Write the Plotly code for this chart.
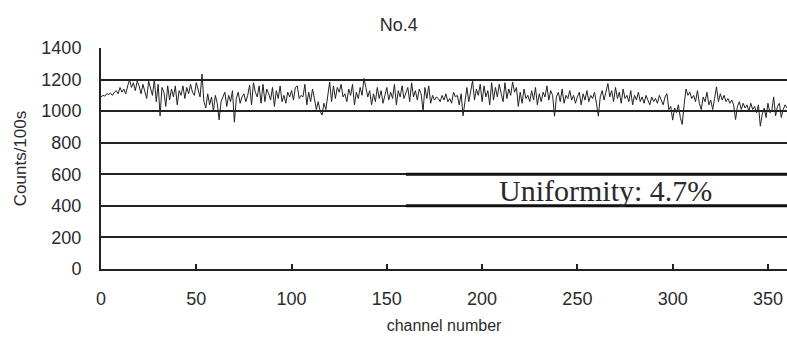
import plotly.graph_objects as go

# Counts per channel over a 100 s acquisition
counts = [
    1090, 1100, 1095, 1110, 1105, 1115, 1100, 1120, 1130, 1110, 1150, 1120, 1140, 1110, 1160, 1200, 1150, 1180, 1130, 1190,
    1160, 1110, 1170, 1120, 1080, 1190, 1150, 1100, 1200, 1060, 1170, 970, 1150, 1120, 1030, 1160, 1070, 1140, 1090, 1160,
    1040, 1130, 1100, 1160, 1080, 1150, 1110, 1170, 1120, 1100, 1180, 1140, 1090, 1235, 1060, 1020, 1110, 1040, 1090, 1000,
    1100, 1050, 945, 1060, 1090, 1120, 1030, 1100, 1060, 1130, 930, 1080, 1120, 1050, 1090, 1110, 1060, 1100, 1165, 1040,
    1180, 1120, 1090, 1160, 1050, 1170, 1060, 1140, 1110, 1070, 1150, 1030, 1130, 1080, 1160, 1060, 1100, 1050, 1120, 1090,
    1130, 1070, 1150, 1160, 1080, 1100, 1090, 1170, 1040, 1120, 1060, 1140, 1080, 1010, 1060, 1000, 975, 1050, 1010, 1110,
    1185, 1060, 1160, 1080, 1150, 1120, 1170, 1090, 1110, 1060, 1140, 1100, 1170, 1040, 1120, 1080, 1150, 1100, 1207, 1150,
    1090, 1130, 1040, 1110, 1060, 1150, 1080, 1130, 1050, 1100, 1150, 1070, 1120, 1080, 1170, 1040, 1130, 1090, 1160, 1080,
    1120, 1150, 1060, 1180, 1090, 1130, 1070, 1140, 1110, 1000, 1150, 1080, 1160, 1050, 1100, 1070, 1090, 1080, 1060, 1100,
    1070, 1110, 1060, 1080, 1050, 1120, 1090, 1100, 1040, 1110, 970, 1080, 1150, 1060, 1130, 1192, 1070, 1140, 1100, 1170,
    1060, 1160, 1090, 1130, 1040, 1180, 1070, 1150, 1090, 1170, 1110, 1060, 1180, 1080, 1140, 1100, 1185, 1120, 1150, 1030,
    1120, 1050, 1140, 1080, 1100, 1060, 1130, 1070, 1150, 1040, 1110, 1060, 1120, 1090, 1160, 1070, 1130, 1100, 968, 1090,
    1120, 1060, 1140, 1050, 1100, 1080, 1130, 1070, 1100, 1050, 1090, 1120, 1040, 1110, 1070, 1130, 1060, 1100, 1080, 1120,
    1050, 968, 1090, 1130, 1070, 1120, 1175, 1090, 1130, 1060, 1150, 1080, 1120, 1050, 1140, 1080, 1100, 1060, 1130, 1040,
    1100, 1070, 1120, 1060, 1090, 1050, 1100, 1070, 1040, 1090, 1060, 1080, 1050, 1100, 1070, 1040, 1090, 1110, 1010, 1030,
    943, 1020, 990, 1040, 960, 916, 1040, 1140, 1100, 1120, 1080, 1100, 1060, 1130, 1050, 1010, 1090, 1060, 1120, 1040,
    1070, 1010, 1080, 1154, 1060, 1110, 1070, 1100, 1060, 1080, 1050, 1070, 1040, 947, 1030, 1060, 1010, 1050, 1020, 1040,
    1000, 1050, 1010, 1030, 990, 1040, 905, 980, 1020, 960, 1050, 990, 1000, 1090, 970, 1030, 1050, 960, 1010, 1040,
    1020,
]
channels = list(range(len(counts)))

x_ticks = [0, 50, 100, 150, 200, 250, 300, 350]
y_ticks = [0, 200, 400, 600, 800, 1000, 1200, 1400]

uniformity_label = "Uniformity: 4.7%"
box_x = [160, 360]
box_y = [400, 600]

ink = "#222222"
text_ink = "#2b2b2b"
sans = "Liberation Sans, Arial, sans-serif"

fig = go.Figure()
fig.add_trace(go.Scatter(
    x=channels, y=counts, mode="lines",
    line=dict(color=ink, width=1),
    showlegend=False, hoverinfo="skip",
))

# top and bottom rules of the uniformity label box
for yv in box_y:
    fig.add_shape(type="line", xref="x", yref="y",
                  x0=box_x[0], x1=box_x[1], y0=yv, y1=yv,
                  line=dict(color="#111111", width=3))

fig.add_annotation(
    x=(box_x[0] + box_x[1]) / 2 + 5, y=sum(box_y) / 2,
    xref="x", yref="y", text=uniformity_label, showarrow=False,
    font=dict(family="Liberation Serif, Times New Roman, serif", size=30, color="#2a2a2a"),
    xanchor="center", yanchor="middle",
)

fig.update_layout(
    width=787, height=343,
    margin=dict(l=101, r=0, t=48, b=74),
    paper_bgcolor="white", plot_bgcolor="white",
    title=dict(text="No.4", x=0.434, xref="paper", y=1 - 24.5 / 343,
               yref="container", xanchor="center", yanchor="middle",
               font=dict(family=sans, size=18, color=text_ink)),
    font=dict(family=sans, color=text_ink),
)

fig.update_xaxes(
    range=[0, 360], tickvals=x_ticks, ticks="inside", ticklen=5,
    tickcolor=ink, tickwidth=1.5, showline=True, linecolor=ink, linewidth=2,
    showgrid=False, zeroline=False, tickfont=dict(size=18, color=text_ink),
    ticklabelstandoff=12,
    title=dict(text="channel number", font=dict(size=16, color=text_ink), standoff=12),
)
fig.update_yaxes(
    range=[0, 1400], tickvals=y_ticks, ticks="", showline=True,
    linecolor=ink, linewidth=2, showgrid=True, gridcolor=ink, gridwidth=1.5,
    zeroline=False, tickfont=dict(size=18, color=text_ink), ticklabelstandoff=14,
    title=dict(text="Counts/100s", font=dict(size=17, color=text_ink), standoff=10),
)

fig.write_html("out.html")
